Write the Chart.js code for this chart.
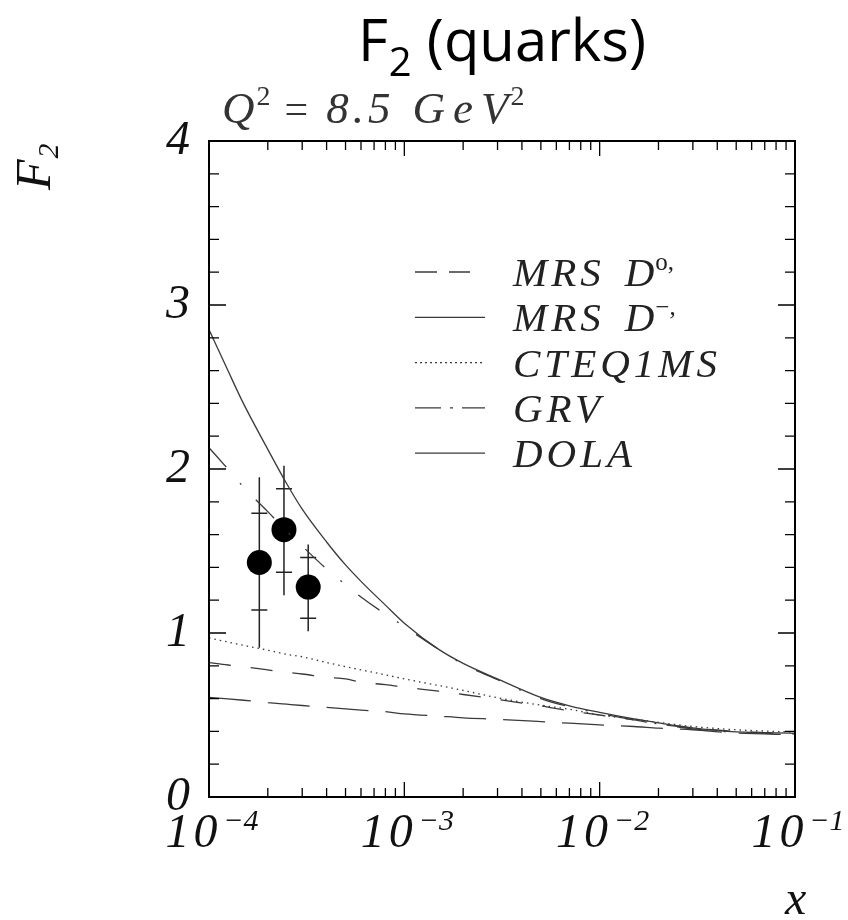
<!DOCTYPE html>
<html>
<head>
<meta charset="utf-8">
<title>F2 (quarks)</title>
<script src="https://cdn.jsdelivr.net/npm/chart.js@4.4.1/dist/chart.umd.min.js"></script>
<style>
  html, body { margin: 0; padding: 0; background: #fff; }
  #wrap { position: relative; width: 848px; height: 920px; }
</style>
</head>
<body>
<div id="wrap"><canvas id="chart"></canvas></div>
<script>
/* F2 at Q^2 = 8.5 GeV^2 : parton parametrisations vs. small-x data points */

// ---- x grid shared by the curves ----
const xGrid = [1e-4, 1.25e-4, 1.5e-4, 2e-4, 2.5e-4, 3e-4, 4e-4, 5e-4, 6e-4, 8e-4,
  1e-3, 1.5e-3, 2e-3, 3e-3, 5e-3, 7e-3, 1e-2, 1.5e-2, 2e-2, 3e-2, 5e-2, 1e-1];

// ---- curves ----
const mrsD0 = [0.82, 0.805, 0.795, 0.775, 0.76, 0.75, 0.73, 0.72, 0.70, 0.685,
  0.67, 0.645, 0.625, 0.595, 0.555, 0.525, 0.50, 0.47, 0.445, 0.42, 0.40, 0.385];
const mrsDm = [2.85, 2.60, 2.40, 2.12, 1.91, 1.755, 1.555, 1.415, 1.315, 1.17,
  1.06, 0.90, 0.815, 0.72, 0.607, 0.556, 0.516, 0.476, 0.452, 0.422, 0.397, 0.39];
const cteq1ms = [0.97, 0.945, 0.925, 0.895, 0.87, 0.855, 0.82, 0.795, 0.775, 0.745,
  0.72, 0.68, 0.65, 0.605, 0.56, 0.535, 0.50, 0.475, 0.455, 0.43, 0.41, 0.395];
const grv = [2.13, 2.00, 1.89, 1.74, 1.62, 1.53, 1.39, 1.295, 1.22, 1.115,
  1.04, 0.90, 0.81, 0.715, 0.60, 0.55, 0.51, 0.47, 0.445, 0.415, 0.395, 0.385];
const dola = [0.607, 0.598, 0.59, 0.576, 0.566, 0.558, 0.547, 0.537, 0.53, 0.52,
  0.507, 0.493, 0.483, 0.474, 0.46, 0.45, 0.44, 0.43, 0.42, 0.41, 0.39, 0.38];

// ---- measured points (inner bar = stat, outer = total) ----
const ptX = [1.81e-4, 2.42e-4, 3.22e-4];
const ptY = [1.43, 1.63, 1.28];
const statLo = [1.14, 1.37, 1.09];
const statHi = [1.73, 1.88, 1.46];
const totLo = [0.91, 1.23, 1.01];
const totHi = [1.95, 2.02, 1.54];

// ---- axes ----
const yTicks = [0, 1, 2, 3, 4];
const xDecades = [1e-4, 1e-3, 1e-2, 1e-1];
const xExps = ["\u22124", "\u22123", "\u22122", "\u22121"];

const titleMain = "F";
const titleSub = "2";
const titleRest = " (quarks)";

const legendRows = [
  { name: "MRS", sym: "D", sup: "o,", dash: [22, 12], len: 55 },
  { name: "MRS", sym: "D", sup: "\u2212,", dash: [], len: 70 },
  { name: "CTEQ1MS", dash: [2, 3], len: 70 },
  { name: "GRV", dash: [26, 9, 3, 9], len: 70 },
  { name: "DOLA", dash: [], len: 70 },
];

const INK = "#3a3a3a";
const SERIF = '"Liberation Serif", "DejaVu Serif", serif';
const SANS = '"Open Sans", "Noto Sans", sans-serif';
const $ = (id) => document.getElementById(id);

const curves = [
  { label: "MRS D0'", ys: mrsD0, dash: [22, 20] },
  { label: "MRS D-'", ys: mrsDm, dash: [] },
  { label: "CTEQ1MS", ys: cteq1ms, dash: [1.5, 4] },
  { label: "GRV", ys: grv, dash: [26, 21, 2, 21] },
  { label: "DOLA", ys: dola, dash: [42, 17] },
];

const datasets = curves.map((c) => ({
  label: c.label,
  data: xGrid.map((x, i) => ({ x, y: c.ys[i] })),
  borderColor: INK,
  borderWidth: 1.3,
  borderDash: c.dash,
  pointRadius: 0,
  cubicInterpolationMode: "monotone",
  fill: false,
}));
datasets.push({
  label: "data",
  data: ptX.map((x, i) => ({ x, y: ptY[i] })),
  showLine: false,
  pointRadius: 12.5,
  pointStyle: "circle",
  backgroundColor: "#000",
  borderColor: "#000",
  borderWidth: 0,
});

/* draws a row of text pieces (for super/subscripts) left to right */
function pieces(ctx, x, y, list) {
  for (const p of list) {
    ctx.font = p.f;
    ctx.letterSpacing = p.ls || "0px";
    x += p.dx || 0;
    ctx.fillText(p.t, x, y + (p.dy || 0));
    x += ctx.measureText(p.t).width;
  }
  ctx.letterSpacing = "0px";
  return x;
}
function piecesWidth(ctx, list) {
  let w = 0;
  for (const p of list) {
    ctx.font = p.f;
    ctx.letterSpacing = p.ls || "0px";
    w += (p.dx || 0) + ctx.measureText(p.t).width;
  }
  ctx.letterSpacing = "0px";
  return w;
}

// error bars under the markers
const errorBars = {
  id: "errorBars",
  beforeDatasetsDraw(chart) {
    const { ctx } = chart;
    const xs = chart.scales.x, ys = chart.scales.y;
    ctx.save();
    ctx.strokeStyle = "#222";
    ctx.lineWidth = 1.5;
    ptX.forEach((x, i) => {
      const px = xs.getPixelForValue(x);
      ctx.beginPath();
      ctx.moveTo(px, ys.getPixelForValue(totHi[i]));
      ctx.lineTo(px, ys.getPixelForValue(totLo[i]));
      for (const v of [statHi[i], statLo[i]]) {
        const py = ys.getPixelForValue(v);
        ctx.moveTo(px - 8, py);
        ctx.lineTo(px + 8, py);
      }
      ctx.stroke();
    });
    ctx.restore();
  },
};

// frame, inward ticks, tick labels, titles and the legend
const decor = {
  id: "decor",
  afterDatasetsDraw(chart) {
    const { ctx, chartArea: ca } = chart;
    const xs = chart.scales.x, ys = chart.scales.y;
    ctx.save();

    ctx.strokeStyle = "#000";
    ctx.lineWidth = 2;
    ctx.strokeRect(ca.left, ca.top, ca.width, ca.height);

    ctx.lineWidth = 1.3;
    ctx.beginPath();
    xDecades.forEach((d, k) => {
      for (let m = 1; m <= 9; m++) {
        if (m > 1 && k === xDecades.length - 1) break;
        const px = xs.getPixelForValue(d * m);
        const len = m === 1 ? 15 : 9;
        ctx.moveTo(px, ca.bottom); ctx.lineTo(px, ca.bottom - len);
        ctx.moveTo(px, ca.top); ctx.lineTo(px, ca.top + len);
      }
    });
    for (let v = 0; v <= 4.001; v += 0.2) {
      const py = ys.getPixelForValue(v);
      const major = Math.abs(v - Math.round(v)) < 1e-6;
      const len = major ? 17 : 10;
      ctx.moveTo(ca.left, py); ctx.lineTo(ca.left + len, py);
      ctx.moveTo(ca.right, py); ctx.lineTo(ca.right - len, py);
    }
    ctx.stroke();

    ctx.fillStyle = "#111";
    ctx.textBaseline = "middle";
    ctx.textAlign = "right";
    ctx.font = `italic 48px ${SERIF}`;
    yTicks.forEach((v) => ctx.fillText(String(v), ca.left - 19, ys.getPixelForValue(v)));

    ctx.textAlign = "left";
    ctx.textBaseline = "alphabetic";
    xDecades.forEach((d, k) => {
      const lab = [
        { t: "10", f: `italic 48px ${SERIF}`, ls: "4px" },
        { t: xExps[k], f: `italic 30px ${SERIF}`, dy: -17, dx: 2 },
      ];
      const w = piecesWidth(ctx, lab);
      pieces(ctx, xs.getPixelForValue(d) - w / 2 + 3, ca.bottom + 50, lab);
    });

    // title
    ctx.fillStyle = "#000";
    const ttl = [
      { t: titleMain, f: `58px ${SANS}` },
      { t: titleSub, f: `40px ${SANS}`, dy: 15, dx: 1 },
      { t: titleRest, f: `58px ${SANS}` },
    ];
    const tw = piecesWidth(ctx, ttl);
    pieces(ctx, (ca.left + ca.right) / 2 - tw / 2, 61, ttl);

    // Q^2 label
    ctx.fillStyle = "#333";
    pieces(ctx, ca.left + 13, ca.top - 18, [
      { t: "Q", f: `italic 45px ${SERIF}` },
      { t: "2", f: `28px ${SERIF}`, dy: -18, dx: 2 },
      { t: "=", f: `42px ${SERIF}`, dx: 14 },
      { t: "8.5", f: `italic 45px ${SERIF}`, dx: 18, ls: "4px" },
      { t: "GeV", f: `italic 45px ${SERIF}`, dx: 18, ls: "8px" },
      { t: "2", f: `28px ${SERIF}`, dy: -18, dx: -6 },
    ]);

    // axis titles
    ctx.fillStyle = "#111";
    ctx.save();
    ctx.translate(50, 190);
    ctx.rotate(-Math.PI / 2);
    pieces(ctx, 0, 0, [
      { t: "F", f: `italic 50px ${SERIF}` },
      { t: "2", f: `italic 30px ${SERIF}`, dy: 8, dx: 1 },
    ]);
    ctx.restore();
    ctx.font = `italic 48px ${SERIF}`;
    ctx.fillText("x", ca.right - 10, ca.bottom + 117);

    // legend
    const lx = ca.left + 206, ly = ca.top + 131, rowH = 45.3;
    ctx.strokeStyle = INK;
    ctx.fillStyle = "#222";
    ctx.lineWidth = 1.3;
    legendRows.forEach((r, i) => {
      const y = ly + i * rowH;
      ctx.setLineDash(r.dash);
      ctx.beginPath();
      ctx.moveTo(lx, y);
      ctx.lineTo(lx + r.len, y);
      ctx.stroke();
      ctx.setLineDash([]);
      const row = [{ t: r.name, f: `italic 41px ${SERIF}`, ls: "4px" }];
      if (r.sym) {
        row.push({ t: r.sym, f: `italic 41px ${SERIF}`, dx: 20 });
        row.push({ t: r.sup, f: `25px ${SERIF}`, dy: -16, dx: 1 });
      }
      pieces(ctx, lx + 98, y + 14, row);
    });

    ctx.restore();
  },
};

new Chart($("chart"), {
  type: "line",
  data: { datasets },
  options: {
    responsive: true,
    maintainAspectRatio: false,
    animation: false,
    events: [],
    layout: { padding: { left: 209, right: 53, top: 141, bottom: 123 } },
    plugins: { legend: { display: false }, tooltip: { enabled: false } },
    scales: {
      x: { type: "logarithmic", min: 1e-4, max: 1e-1, display: false },
      y: { type: "linear", min: 0, max: 4, display: false },
    },
  },
  plugins: [errorBars, decor],
});
</script>
</body>
</html>
